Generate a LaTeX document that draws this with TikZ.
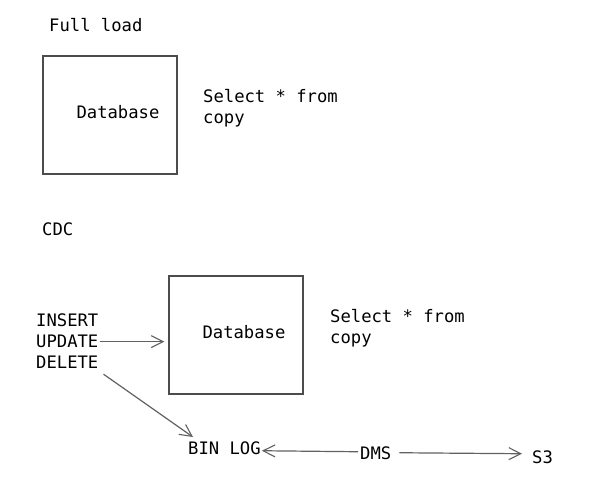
\documentclass[tikz,border=0pt]{standalone}
\usepackage{fontspec}
\newfontfamily\monofont{DejaVu Sans Mono}
\usetikzlibrary{arrows.meta,calc}
\begin{document}
\begin{tikzpicture}[x=1pt,y=-1pt,
  txt/.style={inner sep=0pt,anchor=base west,font=\monofont\fontsize{17.2}{21}\selectfont,text=black},
  dbbox/.style={draw=black!70,line width=1.1pt,minimum width=134pt,minimum height=118pt,inner sep=0pt},
  conn/.style={draw=black!62,line width=1.2pt,-{Straight Barb[length=12pt,width=12pt,line width=1.1pt]}}]
\useasboundingbox (0,0) rectangle (590,501);
\fill[white] (0,0) rectangle (590,501);
\node[txt] (full) at (49,31) {Full load};
\node[dbbox] (db1) at (110,115) {};
\node[txt,anchor=base] (db1t) at (118,118) {Database};
\node[txt,align=left] (sel1) at (203,123) {Select * from\\copy};
\node[txt] (cdc) at (42,235) {CDC};
\node[dbbox] (db2) at (236,335) {};
\node[txt,anchor=base] (db2t) at (244,338) {Database};
\node[txt,align=left] (sel2) at (330,343) {Select * from\\copy};
\node[txt,align=left] (ops) at (36,368) {INSERT\\UPDATE\\DELETE};
\node[txt] (binlog) at (188,454) {BIN LOG};
\node[txt] (dms) at (360,459) {DMS};
\node[txt] (s3) at (532,463) {S3};
\draw[conn] ($(ops.east)+(1,1)$) -- ($(ops.east -| db2.west)+(-4,1)$);
\draw[conn] ($(ops.south east)+(5,6)$) -- ($(binlog.north west)+(5,-4)$);
\draw[conn] ($(dms.west)+(-2,-1)$) -- ($(binlog.east |- dms.west)+(1,-2)$);
\draw[conn] ($(dms.east)+(8,0)$) -- ($(s3.west |- dms.east)+(-10,1)$);
\end{tikzpicture}
\end{document}
